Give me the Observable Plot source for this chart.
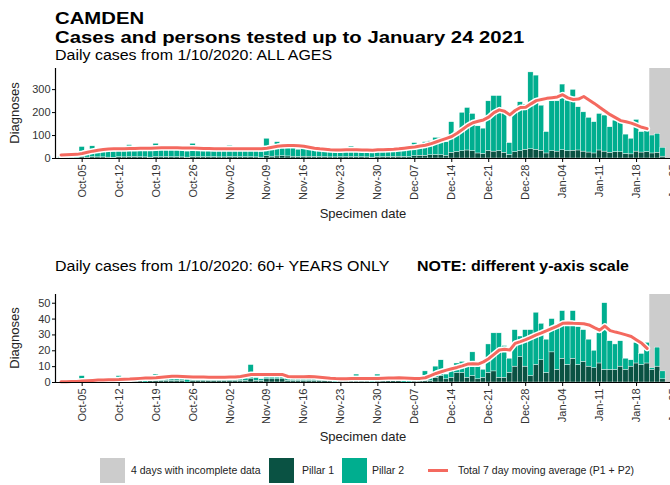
<!DOCTYPE html>
<html><head><meta charset="utf-8">
<script src="https://cdn.jsdelivr.net/npm/d3@7"></script>
<script src="https://cdn.jsdelivr.net/npm/@observablehq/plot@0.6"></script>
<style>
html,body{margin:0;padding:0;background:#fff;overflow:hidden;}
#root{position:relative;width:670px;height:485px;overflow:hidden;font-family:"Liberation Sans",Arial,sans-serif;color:#000;}
.abs{position:absolute;white-space:nowrap;line-height:1;}
.title{font-weight:bold;font-size:16.5px;transform:scaleX(1.23);transform-origin:0 0;}
.sub{font-size:14px;transform:scaleX(1.14);transform-origin:0 0;}
.ylab{font-size:13px;color:#222;transform:translate(-50%,-50%) rotate(-90deg);}
.xlab{font-size:13px;color:#222;transform:translateX(-50%);}
.leg{position:absolute;top:458px;height:25px;line-height:25px;font-size:10.5px;color:#222;white-space:nowrap;}
.key{position:absolute;top:458px;width:25px;height:25px;}
.plot{position:absolute;left:0;width:700px;}
.plot svg{max-width:none !important;width:700px;}
</style></head>
<body><div id="root">
<div class="abs title" style="left:55px;top:10px">CAMDEN</div>
<div class="abs title" style="left:55px;top:28.5px">Cases and persons tested up to January 24 2021</div>
<div class="abs sub" style="left:55px;top:48px">Daily cases from 1/10/2020: ALL AGES</div>
<div id="top" class="plot" style="top:58px"></div>
<div class="abs ylab" style="left:14px;top:113px">Diagnoses</div>
<div class="abs xlab" style="left:363px;top:207px">Specimen date</div>
<div class="abs sub" style="left:55px;top:259px">Daily cases from 1/10/2020: 60+ YEARS ONLY</div>
<div class="abs sub" style="left:417px;top:259px;font-weight:bold">NOTE: different y-axis scale</div>
<div id="bottom" class="plot" style="top:284px"></div>
<div class="abs ylab" style="left:14px;top:338px">Diagnoses</div>
<div class="abs xlab" style="left:363px;top:430px">Specimen date</div>
<div class="key" style="left:100px;background:#cccccc"></div>
<div class="leg" style="left:131px">4 days with incomplete data</div>
<div class="key" style="left:269px;background:#0a5243"></div>
<div class="leg" style="left:302px">Pillar 1</div>
<div class="key" style="left:342px;background:#00ae8f"></div>
<div class="leg" style="left:372px">Pillar 2</div>
<div style="position:absolute;left:428px;top:469px;width:20px;height:3px;background:#f4695f"></div>
<div class="leg" style="left:458px">Total 7 day moving average (P1 + P2)</div>
</div>
<script>
// ---- data ----
const firstDay = "2020-10-01";
const dayCount = 116; // Oct 1 2020 .. Jan 24 2021
const incompleteFirst = "2021-01-21";
const incompleteDays = 4;
const tickDates = ["2020-10-05","2020-10-12","2020-10-19","2020-10-26","2020-11-02","2020-11-09","2020-11-16","2020-11-23","2020-11-30","2020-12-07","2020-12-14","2020-12-21","2020-12-28","2021-01-04","2021-01-11","2021-01-18","2021-01-25"];
const topTicks = [0, 100, 200, 300];
const bottomTicks = [0, 10, 20, 30, 40, 50];

// All ages: total cases (P1 + P2) per day
const allTotal = [
  8,10,7,5,50,35,53,38,40,36,30,42,40,58,44,42,38,32,64,44,45,43,42,38,30,64,44,42,40,43,36,
  32,55,40,40,38,40,34,30,86,48,71,52,55,45,38,52,45,42,38,36,30,26,46,36,52,36,35,30,26,40,
  38,36,40,42,44,38,67,57,71,75,90,90,71,158,115,199,220,194,140,130,249,272,272,200,67,200,245,235,375,361,230,
  115,249,249,322,252,299,223,201,177,158,194,187,136,165,161,104,86,168,115,125,100,107,46,0
];
// All ages: Pillar 1 per day
const allP1 = [
  2,3,2,1,5,4,6,5,5,4,3,6,5,6,7,6,5,4,7,6,7,6,6,5,4,7,6,6,6,6,5,
  5,7,6,6,6,6,5,4,10,8,9,10,9,8,7,8,8,7,7,6,5,5,6,6,7,6,6,5,4,6,
  6,7,7,8,7,6,10,12,12,14,15,14,12,25,28,32,35,32,22,20,33,30,32,25,15,28,32,38,40,38,34,
  22,32,30,36,32,34,35,30,26,22,35,30,25,28,27,20,18,30,26,28,22,25,8,0
];
// All ages: 7 day moving average (Oct 1 .. Jan 20)
const allAvg = [
  15,16,17,18,22,27,32,36,39,41,42,43,43,44,44,45,45,45,46,47,47,47,47,46,46,46,45,44,44,43,43,
  43,43,43,42,42,42,42,42,45,49,53,56,57,57,56,53,49,45,42,40,38,37,37,38,38,38,37,37,36,38,
  38,39,40,42,45,48,50,54,58,64,72,80,88,96,110,126,143,156,162,168,180,200,212,206,190,209,222,223,238,252,257,
  262,265,268,278,264,257,259,270,255,240,223,207,191,178,165,160,154,145,136,130
];
// 60+: total cases per day
const oldTotal = [
  0,1,0,0,4,1,2,1,2,1,0,4,2,1,2,3,1,2,5,3,2,4,3,2,2,4,3,3,2,4,2,
  2,3,5,3,4,11,3,2,5,5,5,5,4,2,3,3,5,3,3,2,2,1,2,2,3,5,2,2,1,5,
  2,3,2,2,1,1,2,2,7,3,10,14,5,8,12,13,10,19,10,8,24,31,31,23,15,33,29,33,33,44,37,
  27,40,36,45,37,45,35,33,27,20,31,50,26,24,26,15,14,25,18,25,9,22,7,0
];
// 60+: Pillar 1 per day
const oldP1 = [
  0,0,0,0,1,0,1,0,1,0,0,1,1,0,1,1,0,1,1,1,1,1,1,1,0,1,1,1,1,1,1,
  1,1,1,1,1,2,1,1,2,2,2,2,1,1,1,1,1,1,1,1,1,0,1,1,1,1,1,1,0,1,
  1,1,1,1,0,0,1,1,1,1,3,4,2,3,6,6,3,4,2,3,6,7,3,3,6,10,16,10,4,11,14,
  6,19,8,15,11,15,11,13,10,9,12,8,8,8,10,8,10,12,11,12,8,10,2,0
];
// 60+: 7 day moving average (Oct 1 .. Jan 20)
const oldAvg = [
  0.4,0.5,0.6,0.7,0.9,1.1,1.3,1.5,1.6,1.7,1.8,1.9,2.1,2.2,2.4,2.6,2.8,2.9,3.0,3.3,3.6,3.9,4.0,3.8,3.6,3.4,3.4,3.4,3.3,3.3,3.3,
  3.3,3.4,3.4,3.8,4.4,5.0,5.0,5.0,5.0,5.0,5.0,5.0,3.8,3.6,3.6,3.7,3.8,3.6,3.3,3.0,2.7,2.5,2.4,2.4,2.5,2.6,2.6,2.5,2.5,2.6,
  2.7,2.8,2.9,3.0,2.9,2.7,2.5,2.6,3.0,4.3,5.7,6.8,7.8,8.7,9.5,10.5,11.6,11.8,11.6,13.0,15.0,17.8,20.5,21.0,20.5,24.7,25.8,27.0,28.5,30.0,31.3,
  32.7,34.2,35.6,37.3,37.5,37.3,37.2,37.0,36.3,34.6,33.0,35.6,32.7,31.8,31.0,30.0,29.0,26.8,24.7,21.5
];

// ---- styles ----
const C_P1 = "#0a5243", C_P2 = "#00ae8f", C_AVG = "#f4695f", C_INC = "#cccccc";

const start = new Date(firstDay + "T00:00Z");
const dates = d3.range(dayCount).map(i => d3.utcDay.offset(start, i));
const xTicks = tickDates.map(s => new Date(s + "T00:00Z"));
const xDomain = [new Date(Date.UTC(2020, 8, 29, 22, 48)), new Date(Date.UTC(2021, 0, 30, 2, 36))];
const incStart = new Date(incompleteFirst + "T00:00Z");
const incomplete = [{x1: d3.utcHour.offset(incStart, -12), x2: d3.utcHour.offset(d3.utcDay.offset(incStart, incompleteDays), -12)}];

function chart(total, p1, avg, yMax, yTicks, height) {
  const rows = dates.map((d, i) => ({x1: d3.utcHour.offset(d, -12), x2: d3.utcHour.offset(d, 12), p1: p1[i], total: total[i]}));
  const line = avg.map((v, i) => ({date: dates[i], value: v}));
  return Plot.plot({
    width: 700, height, marginLeft: 55, marginRight: 0, marginTop: 10, marginBottom: 60,
    style: {fontFamily: "'Liberation Sans', Arial, sans-serif", fontSize: "11px", color: "#333", background: "transparent", maxWidth: "none"},
    x: {type: "utc", domain: xDomain},
    y: {domain: [0, yMax]},
    marks: [
      Plot.rect(incomplete, {x1: "x1", x2: "x2", fill: C_INC}),
      Plot.rect(rows, {x1: "x1", x2: "x2", y1: 0, y2: "p1", fill: C_P1, stroke: "white", strokeWidth: 0.4}),
      Plot.rect(rows, {x1: "x1", x2: "x2", y1: "p1", y2: "total", fill: C_P2, stroke: "white", strokeWidth: 0.4}),
      Plot.line(line, {x: "date", y: "value", stroke: "white", strokeWidth: 6, strokeLinejoin: "round"}),
      Plot.line(line, {x: "date", y: "value", stroke: C_AVG, strokeWidth: 3, strokeLinejoin: "round"}),
      Plot.ruleY([0], {stroke: "#000", strokeWidth: 1.2}),
      Plot.ruleX([xDomain[0]], {stroke: "#000", strokeWidth: 1.2}),
      Plot.axisX({ticks: xTicks, tickFormat: d3.utcFormat("%b-%d"), tickRotate: -90, tickSize: 4, tickPadding: 2, label: null, fontSize: 11, stroke: "#000"}),
      Plot.axisY({ticks: yTicks, tickSize: 3, tickPadding: 2, label: null, fontSize: 11, stroke: "#000"})
    ]
  });
}

document.getElementById("top").append(chart(allTotal, allP1, allAvg, 392, topTicks, 160));
document.getElementById("bottom").append(chart(oldTotal, oldP1, oldAvg, 55.5, bottomTicks, 158));
</script>
</body></html>
